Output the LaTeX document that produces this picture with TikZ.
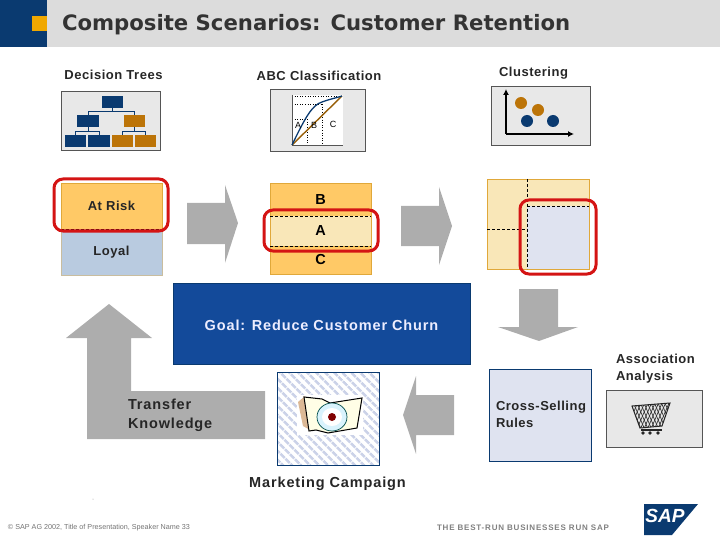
\documentclass[tikz,border=0pt]{standalone}
\usepackage{fontspec}
\setmainfont[LetterSpace=4]{Liberation Sans}
\newfontfamily\titlefont{DejaVu Sans}
\newfontfamily\widefont[LetterSpace=6]{Liberation Sans}
\newfontfamily\tagfont[LetterSpace=10]{Liberation Sans}
\newfontfamily\plainfont{Liberation Sans}
\usetikzlibrary{patterns.meta, arrows.meta}
\definecolor{sapnavy}{HTML}{0A3A70}
\definecolor{sapblue}{HTML}{134A9A}
\definecolor{sapgold}{HTML}{F0A800}
\definecolor{treegold}{HTML}{BC7408}
\definecolor{headgray}{HTML}{DCDCDC}
\definecolor{iconfill}{HTML}{E8E8E8}
\definecolor{iconedge}{HTML}{555555}
\definecolor{arrowgray}{HTML}{ADADAD}
\definecolor{softgold}{HTML}{FFC966}
\definecolor{goldedge}{HTML}{E0A83A}
\definecolor{softblue}{HTML}{B9CBE0}
\definecolor{markred}{HTML}{D41414}
\definecolor{palegold}{HTML}{F9E7B8}
\definecolor{paleblue}{HTML}{DFE3F0}
\definecolor{stripeblue}{HTML}{CBD2E8}
\tikzset{
	every node/.style={inner sep=0pt, outer sep=0pt},
	label text/.style={font=\bfseries\fontsize{13}{15}\selectfont, text=black!85, align=left},
	wide text/.style={font=\widefont\bfseries\fontsize{14.5}{19}\selectfont, text=black!85, align=left},
	icon box/.style={rectangle, draw=iconedge, fill=iconfill, line width=0.8pt},
	tree box/.style={rectangle, minimum height=12pt},
	segment box/.style={rectangle, draw=goldedge, fill=softgold, line width=0.9pt, minimum width=101pt},
	class text/.style={font=\bfseries\fontsize{14.5}{16}\selectfont},
	red mark/.style={rectangle, draw=markred, line width=3pt, rounded corners=9pt},
	block arrow/.style={fill=arrowgray, draw=none},
	cut line/.style={black, dashed, line width=0.7pt, dash pattern=on 3pt off 2pt},
	tree line/.style={sapnavy, line width=0.7pt},
	stripe box/.style={preaction={fill=white}, pattern={Lines[angle=-45,distance=6.5pt,line width=2.8pt]}, pattern color=stripeblue},
}
\begin{document}
\begin{tikzpicture}[x=1pt, y=-1pt]
	\useasboundingbox (0,0) rectangle (720,540);

	% Header band
	\fill[headgray] (0,0) rectangle (720,47);
	\fill[sapnavy] (0,0) rectangle (47,47);
	\fill[sapgold] (32,16) rectangle (47,31);
	\node[anchor=west, font=\titlefont\bfseries\fontsize{21.2}{24}\selectfont, text=black!80] (title) at (62,24.5) {Composite Scenarios: Customer Retention};

	% Method labels
	\node[label text] (treesLabel) at (113.5,75) {Decision Trees};
	\node[label text] (abcLabel) at (319,76) {ABC Classification};
	\node[label text] (clusterLabel) at (533.5,73) {Clustering};
	\node[label text, anchor=west, font=\bfseries\fontsize{13}{17}\selectfont] (assocLabel) at (616,369) {Association\\Analysis};

	% Decision tree icon
	\node[icon box, minimum width=99pt, minimum height=59pt] (treesIcon) at (110.5,120.5) {};
	\node[tree box, fill=sapnavy, minimum width=21pt] (root) at (112.5,102) {};
	\node[tree box, fill=sapnavy, minimum width=22pt] (midL) at (88,121) {};
	\node[tree box, fill=treegold, minimum width=21pt] (midR) at (134.5,121) {};
	\node[tree box, fill=sapnavy, minimum width=21pt] (leafA) at (75.5,141) {};
	\node[tree box, fill=sapnavy, minimum width=22pt] (leafB) at (99,141) {};
	\node[tree box, fill=treegold, minimum width=21pt] (leafC) at (122.5,141) {};
	\node[tree box, fill=treegold, minimum width=21pt] (leafD) at (145.5,141) {};
	\draw[tree line] (root.south) -- ++(0,3.5) -| (midL.north);
	\draw[tree line] (root.south) -- ++(0,3.5) -| (midR.north);
	\draw[tree line] (midL.south) -- ++(0,4) -| (leafA.north);
	\draw[tree line] (midL.south) -- ++(0,4) -| (leafB.north);
	\draw[tree line] (midR.south) -- ++(0,4) -| (leafC.north);
	\draw[tree line] (midR.south) -- ++(0,4) -| (leafD.north);

	% ABC curve icon
	\node[icon box, minimum width=95pt, minimum height=62pt] (abcIcon) at (317.5,120) {};
	\fill[white] (292,95) rectangle (343,145);
	\draw[black, dotted, line width=0.6pt] (292,96) -- (343,96);
	\draw[black, dotted, line width=0.6pt] (292,104) -- (322,104);
	\draw[black, dotted, line width=0.6pt] (292,119) -- (307,119);
	\draw[black, dotted, line width=0.6pt] (307,119) -- (307,145);
	\draw[black, dotted, line width=0.6pt] (322,104) -- (322,145);
	\draw[iconedge, line width=0.7pt] (292,95) -- (292,145) -- (343,145);
	\draw[treegold!80!black, line width=1.4pt] (292,145) -- (342,96);
	\draw[sapnavy, line width=1.3pt] (292,145) .. controls (305,118) and (312,105) .. (322,102) .. controls (330,99) and (336,98) .. (342,96);
	\node[font=\fontsize{9}{10}\selectfont] (curveA) at (298,125) {A};
	\node[font=\fontsize{9}{10}\selectfont] (curveB) at (314,125) {B};
	\node[font=\fontsize{9}{10}\selectfont] (curveC) at (333,124.5) {C};

	% Clustering icon
	\node[icon box, minimum width=99pt, minimum height=59pt] (clusterIcon) at (540.5,115.5) {};
	\draw[black, line width=1.5pt, -{Latex[length=6pt,width=6pt]}] (506,134) -- (506,89);
	\draw[black, line width=1.5pt, -{Latex[length=6pt,width=6pt]}] (506,134) -- (574,134);
	\fill[treegold] (521,103) circle (6pt);
	\fill[treegold] (538,110) circle (6pt);
	\fill[sapnavy] (527,121) circle (6pt);
	\fill[sapnavy] (553,121) circle (6pt);

	% Customer segments
	\node[segment box, minimum height=46pt, label text] (atRisk) at (111.5,206) {At Risk};
	\node[segment box, draw=softblue!60!goldedge, fill=softblue, minimum height=46pt, label text] (loyal) at (111.5,252) {Loyal};
	\draw[cut line] (atRisk.south west) -- (atRisk.south east);
	\node[red mark, minimum width=114pt, minimum height=52pt] (riskMark) at (111,205) {};

	% ABC classes
	\node[segment box, minimum height=33pt, class text] (classB) at (320.5,199.5) {B};
	\node[segment box, draw=none, fill=palegold, minimum height=30pt, class text] (classA) at (320.5,231) {A};
	\node[segment box, minimum height=28pt, class text] (classC) at (320.5,260) {\raisebox{-4pt}{C}};
	\draw[goldedge, line width=0.9pt] (classA.north west) -- (classA.south west);
	\draw[goldedge, line width=0.9pt] (classA.north east) -- (classA.south east);
	\draw[cut line] (classA.north west) -- (classA.north east);
	\draw[cut line] (classA.south west) -- (classA.south east);
	\node[red mark, minimum width=114pt, minimum height=41pt] (classMark) at (321,230.5) {};

	% Cluster grid
	\node[rectangle, draw=goldedge, fill=palegold, line width=0.7pt, minimum width=102pt, minimum height=90pt] (grid) at (538,224) {};
	\node[rectangle, fill=paleblue, minimum width=62pt, minimum height=63pt] (gridPick) at (558,237.5) {};
	\draw[cut line] (grid.north -| gridPick.west) -- (grid.south -| gridPick.west);
	\draw[cut line] (gridPick.north west) -- (gridPick.north east);
	\draw[cut line] (grid.west |- 0,229) -- (gridPick.west |- 0,229);
	\node[red mark, minimum width=76pt, minimum height=74pt] (gridMark) at (558,237) {};

	% Block arrows
	\fill[block arrow] (187,203) -- (225,203) -- (225,185) -- (238,223) -- (225,263) -- (225,244) -- (187,244) -- cycle;
	\fill[block arrow] (401,206) -- (439,206) -- (439,187) -- (452,226) -- (439,265) -- (439,246) -- (401,246) -- cycle;
	\fill[block arrow] (519,289) -- (558,289) -- (558,327) -- (578,327) -- (539,341) -- (498,327) -- (519,327) -- cycle;
	\fill[block arrow] (454,395) -- (416,395) -- (416,376) -- (403,415) -- (416,454) -- (416,435) -- (454,435) -- cycle;
	\fill[block arrow] (109,304) -- (152,338) -- (131,338) -- (131,391) -- (265,391) -- (265,439) -- (87,439) -- (87,338) -- (66,338) -- cycle;

	% Goal
	\node[rectangle, fill=sapblue, draw=sapnavy, line width=0.5pt, minimum width=297pt, minimum height=81pt] (goal) at (321.5,323.5) {};
	\node[wide text, text=white!93!blue] (goalText) at (321.5,325) {Goal: Reduce Customer Churn};

	% Transfer text
	\node[wide text, anchor=west] (transfer) at (128,415.5) {Transfer\\Knowledge};

	% Campaign box and folder picture
	\node[rectangle, draw=sapnavy, line width=0.7pt, minimum width=102pt, minimum height=93pt, stripe box] (campaign) at (328,418.5) {};
	\fill[white] (297,395) rectangle (363,435);
	\fill[brown!55!white] (298,402) -- (305,396) -- (312,431) -- (303,426) -- cycle;
	\draw[black, line width=1pt, fill=yellow!10!white] (304,397) -- (322,399) -- (330,403) -- (362,398) -- (357,428) -- (328,433) -- (316,430) -- (309,431) -- cycle;
	\draw[teal!60!black, line width=0.7pt, fill=cyan!15!white] (332,417) ellipse (15pt and 14pt);
	\fill[white] (332,417) ellipse (10pt and 9pt);
	\fill[red!50!black] (332,417) circle (4pt);
	\node[wide text] (campaignLabel) at (327.5,484) {Marketing Campaign};

	% Cross-selling box
	\node[rectangle, draw=sapnavy, fill=paleblue, line width=0.7pt, minimum width=102pt, minimum height=92pt] (crossSell) at (540,415) {};
	\node[label text, anchor=west, font=\bfseries\fontsize{13}{17}\selectfont] (crossText) at (496,414.5) {Cross-Selling\\Rules};

	% Shopping cart icon
	\node[icon box, minimum width=96pt, minimum height=57pt] (assocIcon) at (654,418.5) {};
	\begin{scope}
		\clip (632,406) -- (670,403) -- (662,426) -- (640,428) -- cycle;
		\foreach \i in {0,...,13} {
			\draw[black!80, line width=0.7pt] (626+\i*3.5,402) -- (638+\i*3.5,430);
			\draw[black!80, line width=0.7pt] (626+\i*3.5,430) -- (638+\i*3.5,402);
		}
	\end{scope}
	\draw[black!85, line width=1pt] (632,406) -- (670,403) -- (662,426) -- (640,428) -- cycle;
	\draw[black!85, line width=1.5pt] (641,430) -- (662,430);
	\fill[black!85] (643,433) circle (1.8pt);
	\fill[black!85] (650,433) circle (1.8pt);
	\fill[black!85] (658,433) circle (1.8pt);

	% Footer
	\node[circle, fill=black!40, minimum size=1pt] (speck) at (93,499) {};
	\node[anchor=west, text=black!55, font=\plainfont\fontsize{7.2}{8}\selectfont] (copyright) at (8,527.5) {© SAP AG 2002, Title of Presentation, Speaker Name 33};
	\node[anchor=west, text=black!50, font=\tagfont\bfseries\fontsize{8}{9}\selectfont] (tagline) at (437,527.5) {THE BEST-RUN BUSINESSES RUN SAP};
	\fill[sapnavy] (644,504) -- (698,504) -- (672,535) -- (644,535) -- cycle;
	\node[text=white, font=\plainfont\bfseries\itshape\fontsize{19}{22}\selectfont] (sapLogo) at (665,516) {SAP};
	\fill[white] (681,533) circle (1pt);
\end{tikzpicture}
\end{document}
